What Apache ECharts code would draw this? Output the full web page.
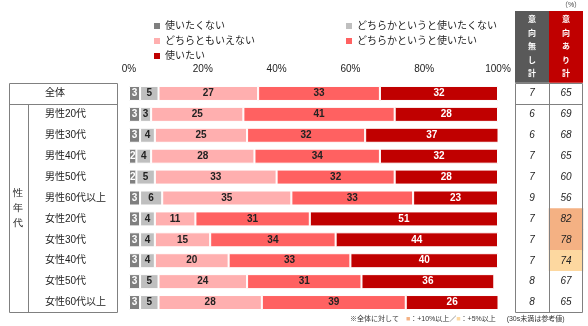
<!DOCTYPE html>
<html><head><meta charset="utf-8">
<script src="https://cdn.jsdelivr.net/npm/echarts@6/dist/echarts.min.js"></script>
<style>html,body{margin:0;padding:0;background:#fff}#c{width:588px;height:326px}</style>
</head><body><div id="c"></div>
<script>
const categories = ['全体','男性20代','男性30代','男性40代','男性50代','男性60代以上','女性20代','女性30代','女性40代','女性50代','女性60代以上'];
const seriesNames = ['使いたくない','どちらかというと使いたくない','どちらともいえない','どちらかというと使いたい','使いたい'];
const v1 = [3,3,3,2,2,3,3,3,3,3,3];
const v2 = [5,3,4,4,5,6,4,4,4,5,5];
const v3 = [27,25,25,28,33,35,11,15,20,24,28];
const v4 = [33,41,32,34,32,33,31,34,33,31,39];
const v5 = [32,28,37,32,28,23,51,44,40,36,26];
const noIntent = [7,6,6,7,7,9,7,7,7,8,8];
const yesIntent = [65,69,68,65,60,56,82,78,74,67,65];
const yesHighlight = ['','','','','','','p10','p10','p5','',''];
const tableHeads = ['意向無し計','意向あり計'];
const xMin = 0, xMax = 100, xStep = 20;

const FONT = "'Liberation Sans','Noto Sans CJK JP',sans-serif";
const colors = ['#7f7f7f','#bfbfbf','#ffafaf','#ff6161','#c00000'];
const labelColors = ['#ffffff','#222222','#222222','#222222','#ffffff'];
const hlColors = {p10:'#f4b183', p5:'#fdd8a0', '':'#ffffff'};
const vals = [v1,v2,v3,v4,v5];

const chart = echarts.init(document.getElementById('c'), null, {renderer:'canvas'});

const barSeries = vals.map((arr,i)=>({
  name: seriesNames[i], type:'bar', stack:'t', data: arr,
  xAxisIndex:0, yAxisIndex:0, barWidth:15,
  itemStyle:{color:colors[i], borderColor:'#ffffff', borderWidth:1},
  label:{show:true, position:'inside', color:labelColors[i], fontSize:10, fontWeight:'bold', fontFamily:FONT},
  emphasis:{disabled:true}, silent:true
}));

const heatData = [];
categories.forEach((c,r)=>{
  heatData.push({value:[0,r,noIntent[r]], itemStyle:{color:'#ffffff'}});
  heatData.push({value:[1,r,yesIntent[r]], itemStyle:{color:hlColors[yesHighlight[r]]}});
});

const vert = s => s.split('').join('\n');
const lineStyle = {stroke:'#808080', lineWidth:1};

chart.setOption({
  animation:false,
  textStyle:{fontFamily:FONT},
  legend:[
    {data:[seriesNames[0],seriesNames[2],seriesNames[4]], orient:'vertical', left:149, top:16, itemWidth:6, itemHeight:6, itemGap:5,
     selectedMode:false, textStyle:{fontSize:10, color:'#222', fontFamily:FONT}, icon:'rect', itemStyle:{borderWidth:0}},
    {data:[seriesNames[1],seriesNames[3]], orient:'vertical', left:341, top:16, itemWidth:6, itemHeight:6, itemGap:5,
     selectedMode:false, textStyle:{fontSize:10, color:'#222', fontFamily:FONT}, icon:'rect', itemStyle:{borderWidth:0}}
  ],
  grid:[
    {left:129, right:90, top:83, bottom:13},
    {left:515, right:5, top:83, bottom:13}
  ],
  xAxis:[
    {type:'value', gridIndex:0, position:'top', min:xMin, max:xMax, interval:xStep,
     axisLabel:{formatter:'{value}%', fontSize:10, color:'#222', margin:9, fontFamily:FONT},
     axisLine:{show:false}, axisTick:{show:false}, splitLine:{show:false}},
    {type:'category', gridIndex:1, data:tableHeads, show:false}
  ],
  yAxis:[
    {type:'category', gridIndex:0, data:categories, inverse:true,
     axisLabel:{align:'left', margin:84, fontSize:10, color:'#222', fontFamily:FONT},
     axisLine:{show:false}, axisTick:{show:false}},
    {type:'category', gridIndex:1, data:categories, inverse:true, show:false}
  ],
  series:[...barSeries,
    {type:'heatmap', xAxisIndex:1, yAxisIndex:1, data:heatData, silent:true,
     label:{show:true, fontSize:10, fontStyle:'italic', color:'#222', fontFamily:FONT,
            formatter:p=>p.value[2]},
     emphasis:{disabled:true}}
  ],
  graphic:[
    {type:'rect', shape:{x:9.5,y:83.5,width:108,height:229}, style:{fill:null, ...lineStyle}},
    {type:'line', shape:{x1:9.5,y1:104.5,x2:117.5,y2:104.5}, style:lineStyle},
    {type:'line', shape:{x1:28.5,y1:104.5,x2:28.5,y2:312.5}, style:lineStyle},
    {type:'text', left:13, top:186, style:{text:vert('性年代'), fontSize:10, lineHeight:15, fill:'#222', font:"10px "+FONT}},
    {type:'rect', shape:{x:515,y:11,width:34,height:72}, style:{fill:'#595959'}},
    {type:'rect', shape:{x:549,y:11,width:34,height:72}, style:{fill:'#c00000'}},
    {type:'text', x:532, y:47, style:{text:vert(tableHeads[0]), align:'center', verticalAlign:'middle', fill:'#fff', font:"bold 8px "+FONT, lineHeight:13.5}},
    {type:'text', x:566, y:47, style:{text:vert(tableHeads[1]), align:'center', verticalAlign:'middle', fill:'#fff', font:"bold 8px "+FONT, lineHeight:13.5}},
    {type:'text', x:571, y:5, style:{text:'（%）', align:'center', verticalAlign:'middle', fill:'#444', font:"7px "+FONT}},
    {type:'rect', shape:{x:515.5,y:83.5,width:67,height:229}, style:{fill:null, ...lineStyle}, z:100},
    {type:'line', shape:{x1:515.5,y1:104.5,x2:582.5,y2:104.5}, style:lineStyle, z:100},
    {type:'line', shape:{x1:549.5,y1:83.5,x2:549.5,y2:312.5}, style:lineStyle, z:100},
    {type:'text', x:350, y:319, style:{text:'※全体に対して　{a|■}：+10%以上／{b|■}：+5%以上　  (30s未満は参考値)', verticalAlign:'middle',
      font:"7px "+FONT, fill:'#333', rich:{a:{fill:hlColors.p10, font:"7px "+FONT}, b:{fill:hlColors.p5, font:"7px "+FONT}}}}
  ]
});
</script></body></html>
